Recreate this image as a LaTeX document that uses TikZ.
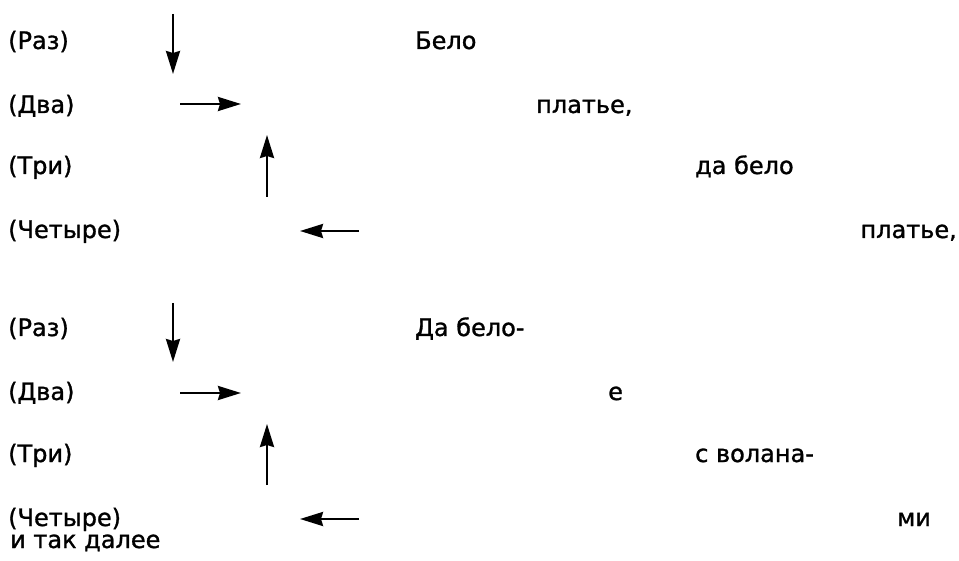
\documentclass[tikz,border=0pt]{standalone}
\usepackage{fontspec}
\setmainfont{DejaVu Sans}[FakeBold=1.2]
\usetikzlibrary{arrows.meta}
\tikzset{
  lbl/.style={anchor=base west, inner sep=0pt, font=\fontsize{24}{28}\selectfont},
  lble/.style={anchor=base east, inner sep=0pt, font=\fontsize{24}{28}\selectfont},
  mv/.style={line width=2.5pt, -{Stealth[length=23pt, width=14pt, inset=2pt]}}
}
\begin{document}
\begin{tikzpicture}[x=1pt, y=-1pt]
\useasboundingbox (0,0) rectangle (959,561);
% counting column, first verse
\node[lbl] (a1) at (8,49)  {(Раз)};
\node[lbl] (a2) at (8,113) {(Два)};
\node[lbl] (a3) at (8,174) {(Три)};
\node[lbl] (a4) at (8,238) {(Четыре)};
% counting column, second verse
\node[lbl] (b1) at (8,336) {(Раз)};
\node[lbl] (b2) at (8,400) {(Два)};
\node[lbl] (b3) at (8,462) {(Три)};
\node[lbl] (b4) at (8,526) {(Четыре)};
\node[lbl] (etc) at (10,548) {и так далее};
% lyrics, stepping to the right
\node[lbl]  (w1) at (415,49)  {Бело};
\node[lbl]  (w2) at (536,113) {платье,};
\node[lbl]  (w3) at (695,174) {да бело};
\node[lble] (w4) at (957,238) {платье,};
\node[lbl]  (v1) at (415,336) {Да бело-};
\node[lbl]  (v2) at (608,400) {е};
\node[lbl]  (v3) at (695,462) {с волана-};
\node[lbl]  (v4) at (897,526) {ми};
% step directions, first verse
\coordinate (d1s) at (173,14);  \coordinate (d1e) at (173,74);
\coordinate (r1s) at (180,104); \coordinate (r1e) at (241,104);
\coordinate (u1s) at (267,197); \coordinate (u1e) at (267,135);
\coordinate (l1s) at (359,231); \coordinate (l1e) at (300,231);
\draw[mv] (d1s) -- (d1e);
\draw[mv] (r1s) -- (r1e);
\draw[mv] (u1s) -- (u1e);
\draw[mv] (l1s) -- (l1e);
% step directions, second verse
\coordinate (d2s) at (173,303); \coordinate (d2e) at (173,362);
\coordinate (r2s) at (180,393); \coordinate (r2e) at (241,393);
\coordinate (u2s) at (267,485); \coordinate (u2e) at (267,424);
\coordinate (l2s) at (359,519); \coordinate (l2e) at (300,519);
\draw[mv] (d2s) -- (d2e);
\draw[mv] (r2s) -- (r2e);
\draw[mv] (u2s) -- (u2e);
\draw[mv] (l2s) -- (l2e);
\end{tikzpicture}
\end{document}
